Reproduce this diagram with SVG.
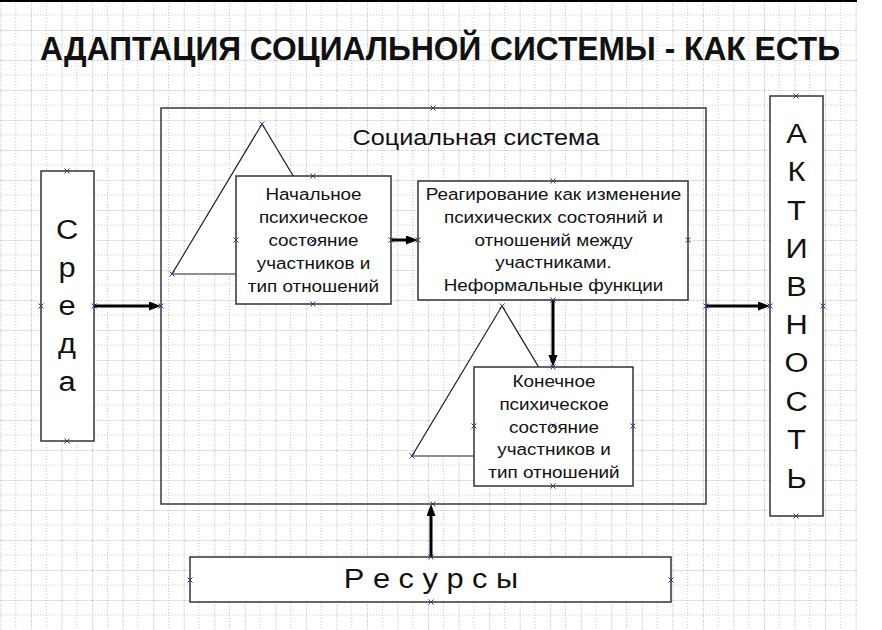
<svg xmlns="http://www.w3.org/2000/svg" width="882" height="630" viewBox="0 0 882 630">
<style>
.box{fill:#fff;stroke:#333;stroke-width:1.5}
.frame{fill:none;stroke:#444;stroke-width:1.6}
.tri{fill:#fff;stroke:#222;stroke-width:1.2}
.con{fill:none;stroke:#000;stroke-width:3;marker-end:url(#ah)}
.t{font-family:"Liberation Sans",Arial,sans-serif;font-size:17px;text-anchor:middle;fill:#111}
.big{font-family:"Liberation Sans",Arial,sans-serif;font-size:28px;text-anchor:middle;fill:#111}
.title{font-family:"Liberation Sans",Arial,sans-serif;font-size:33px;font-weight:bold;fill:#111}
.cp{stroke:#33339a;stroke-width:1;fill:none}
</style>
<defs>
<pattern id="grid" patternUnits="userSpaceOnUse" x="0.5" y="0" width="30.54" height="30">
<path d="M0,0 V30 M0,0 H30.54" stroke="#b4b4b4" stroke-width="1" stroke-dasharray="3,1" fill="none"/>
<path d="M15.27,0 V30 M0,15 H30.54" stroke="#c4c4c4" stroke-width="1" stroke-dasharray="1,2" fill="none"/>
</pattern>
<marker id="ah" markerUnits="userSpaceOnUse" markerWidth="13" markerHeight="10" refX="2" refY="4.5" orient="auto">
<path d="M0,0 L12,4.5 L0,9 z" fill="#000"/>
</marker>
<path id="x" class="cp" d="M-2.5,-2.5 L2.5,2.5 M-2.5,2.5 L2.5,-2.5"/>
</defs>
<rect x="0" y="0" width="882" height="630" fill="#fff"/>
<rect x="0" y="0" width="857" height="630" fill="url(#grid)"/>
<rect x="0" y="0" width="857" height="2" fill="#000"/>

<text class="title" x="40" y="60" textLength="800" lengthAdjust="spacingAndGlyphs">АДАПТАЦИЯ СОЦИАЛЬНОЙ СИСТЕМЫ - КАК ЕСТЬ</text>

<g id="social-system">
<rect class="frame" x="161" y="108" width="545" height="396"/>
<text class="t" style="font-size:22.5px" transform="translate(476,145) scale(1.12,1)">Социальная система</text>
</g>

<g id="triangle1"><polygon class="tri" points="262,124 172,274 352,274"/></g>
<g id="triangle2"><polygon class="tri" points="502,306 412,456 592,456"/></g>

<g id="initial-state">
<rect class="box" x="236" y="176" width="155" height="128"/>
<text class="t" transform="translate(313.5,200) scale(1.11,1)"><tspan x="0">Начальное</tspan><tspan x="0" dy="23">психическое</tspan><tspan x="0" dy="23">состояние</tspan><tspan x="0" dy="23">участников и</tspan><tspan x="0" dy="23">тип отношений</tspan></text>
</g>

<g id="reaction">
<rect class="box" x="418" y="181" width="270" height="119"/>
<text class="t" transform="translate(553.5,200) scale(1.11,1)"><tspan x="0">Реагирование как изменение</tspan><tspan x="0" dy="22.8">психических состояний и</tspan><tspan x="0" dy="22.8">отношений между</tspan><tspan x="0" dy="22.8">участниками.</tspan><tspan x="0" dy="22.8">Неформальные функции</tspan></text>
</g>

<g id="final-state">
<rect class="box" x="474" y="367" width="159" height="119"/>
<text class="t" transform="translate(554,387) scale(1.11,1)"><tspan x="0">Конечное</tspan><tspan x="0" dy="22.8">психическое</tspan><tspan x="0" dy="22.8">состояние</tspan><tspan x="0" dy="22.8">участников и</tspan><tspan x="0" dy="22.8">тип отношений</tspan></text>
</g>

<g id="sreda">
<rect class="box" x="41" y="171" width="53" height="270"/>
<text class="big" transform="translate(67,0) scale(1.1,1)"><tspan x="0" y="239">С</tspan><tspan x="0" y="277">р</tspan><tspan x="0" y="315">е</tspan><tspan x="0" y="353">д</tspan><tspan x="0" y="391">а</tspan></text>
</g>

<g id="aktivnost">
<rect class="box" x="770" y="96" width="53" height="420"/>
<text class="big" transform="translate(796.5,0) scale(1.1,1)"><tspan x="0" y="143">А</tspan><tspan x="0" y="181.3">К</tspan><tspan x="0" y="219.6">Т</tspan><tspan x="0" y="258">И</tspan><tspan x="0" y="296.3">В</tspan><tspan x="0" y="334.5">Н</tspan><tspan x="0" y="372.5">О</tspan><tspan x="0" y="411">С</tspan><tspan x="0" y="449.5">Т</tspan><tspan x="0" y="488">Ь</tspan></text>
</g>

<g id="resursy">
<rect class="box" x="190" y="557" width="481" height="45"/>
<text class="big" transform="translate(431,588) scale(1.1,1)">Р е с у р с ы</text>
</g>

<g id="connectors">
<path class="con" d="M94,306 H151"/>
<path class="con" d="M391,240 H408"/>
<path class="con" d="M553,300 V357"/>
<path class="con" d="M706,306 H760"/>
<path class="con" d="M431,557 V514"/>
</g>

<g id="connection-points">
<use href="#x" x="433" y="108"/><use href="#x" x="433" y="504"/><use href="#x" x="161" y="306"/><use href="#x" x="706" y="306"/>
<use href="#x" x="262" y="124"/><use href="#x" x="172" y="274"/>
<use href="#x" x="313" y="176"/><use href="#x" x="313" y="304"/><use href="#x" x="236" y="240"/><use href="#x" x="391" y="240"/><use href="#x" x="313" y="241"/>
<use href="#x" x="553" y="181"/><use href="#x" x="553" y="300"/><use href="#x" x="418" y="240"/><use href="#x" x="688" y="240"/><use href="#x" x="553" y="240"/>
<use href="#x" x="502" y="306"/><use href="#x" x="412" y="456"/>
<use href="#x" x="553" y="367"/><use href="#x" x="553" y="486"/><use href="#x" x="474" y="426"/><use href="#x" x="633" y="426"/><use href="#x" x="553" y="426"/>
<use href="#x" x="67" y="171"/><use href="#x" x="67" y="441"/><use href="#x" x="41" y="306"/><use href="#x" x="94" y="306"/>
<use href="#x" x="796" y="96"/><use href="#x" x="796" y="516"/><use href="#x" x="770" y="306"/><use href="#x" x="823" y="306"/>
<use href="#x" x="431" y="557"/><use href="#x" x="431" y="602"/><use href="#x" x="190" y="580"/><use href="#x" x="671" y="580"/>
</g>
</svg>
